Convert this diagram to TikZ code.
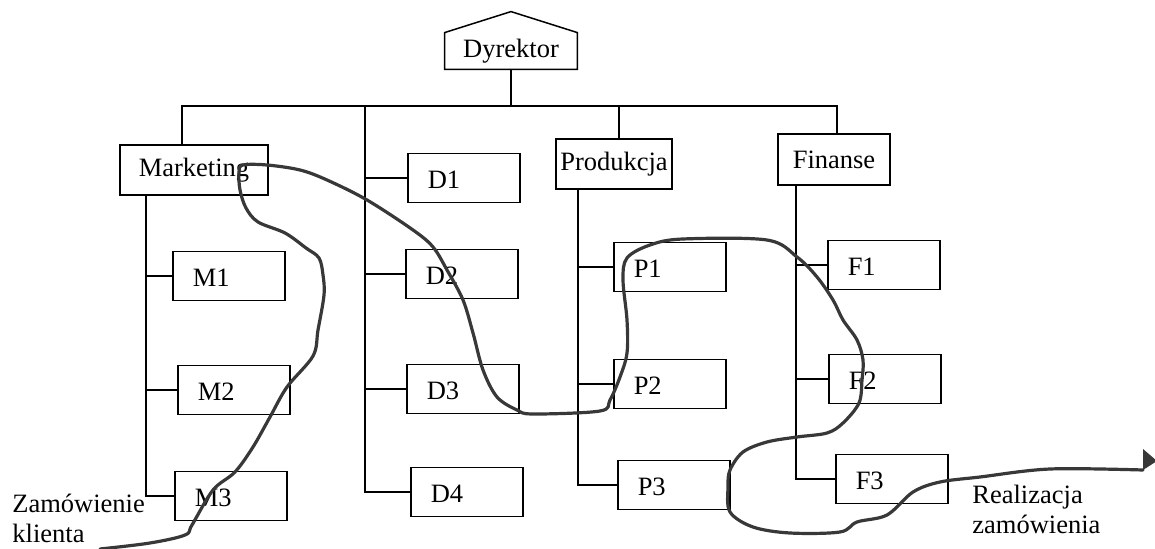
\documentclass[tikz,border=0pt]{standalone}
\usepackage{fontspec}
\setmainfont{Liberation Serif}
\usetikzlibrary{calc}
\newcommand{\orgfont}{\fontsize{13.25}{15}\selectfont}

\begin{document}
\begin{tikzpicture}[x=0.5pt, y=-0.5pt, font=\orgfont,
  dept/.style={draw, line width=0.75pt, minimum height=25pt, inner sep=0pt},
  unitbox/.style={draw, line width=0.75pt, minimum height=24.5pt,
    text width=36pt, text height=10.5pt, text depth=0pt,
    inner xsep=10pt, inner ysep=0pt, align=left, anchor=west},
  link/.style={line width=0.75pt},
  order/.style={line width=1.6pt, black!78, line join=round, line cap=round},
  lbl/.style={align=left, anchor=base west, inner sep=0pt}]
\useasboundingbox (0,0) rectangle (1155,549);

% --- Dyrektor ------------------------------------------------
\node[minimum width=66pt, minimum height=18pt, inner sep=0pt] (dyr) at (511,51) {Dyrektor};
\draw[link] (dyr.south west) -- (dyr.north west) -- ($(dyr.north)+(0,-21)$)
  -- (dyr.north east) -- (dyr.south east) -- cycle;

% --- departments ---------------------------------------------
\node[dept, minimum width=74pt] (mkt) at (194,170) {Marketing};
\node[dept, minimum width=58pt] (prod) at (614,164) {Produkcja};
\node[dept, minimum width=56pt, minimum height=25.5pt] (fin) at (834,159.5) {Finanse};

% --- units ---------------------------------------------------
\node[unitbox] (M1) at (172,276) {M1};
\node[unitbox] (M2) at (177,390) {M2};
\node[unitbox] (M3) at (174,496) {M3};
\node[unitbox] (D1) at (407,178) {D1};
\node[unitbox] (D2) at (405,274) {D2};
\node[unitbox] (D3) at (406,389) {D3};
\node[unitbox] (D4) at (410,492) {D4};
\node[unitbox] (P1) at (613,267) {P1};
\node[unitbox] (P2) at (613,384) {P2};
\node[unitbox] (P3) at (617,485) {P3};
\node[unitbox] (F1) at (827,265) {F1};
\node[unitbox] (F2) at (828,379) {F2};
\node[unitbox] (F3) at (835,479) {F3};

% --- bus -----------------------------------------------------
\coordinate (busL) at (182,106);
\coordinate (busR) at (837,106);
\coordinate (dtop) at (365,106);
\coordinate (ptop) at (619,106);
\draw[link] (dyr.south) -- (dyr.south |- busL);
\draw[link] (busL |- mkt.north) -- (busL) -- (busR) -- (busR |- fin.north);
\draw[link] (ptop) -- (ptop |- prod.north);

% --- stems ---------------------------------------------------
\coordinate (mstem) at (146,195);
\coordinate (pstem) at (578,189);
\coordinate (fstem) at (796,185);
\foreach \n in {M1, M2, M3}{
  \draw[link] (mstem) |- (\n.west);
}
\foreach \n in {D1, D2, D3, D4}{
  \draw[link] (dtop) |- (\n.west);
}
\foreach \n in {P1, P2, P3}{
  \draw[link] (pstem) |- (\n.west);
}
\foreach \n in {F1, F2, F3}{
  \draw[link] (fstem) |- (\n.west);
}

% --- labels --------------------------------------------------
\node[lbl] (klient) at (12,542) {Zamówienie\\klienta};
\node[lbl] (real) at (972,533) {Realizacja\\zamówienia};

% --- order flow ----------------------------------------------
\coordinate (in) at (100,549);
\coordinate (out) at (1143,470);
\draw[order] plot[smooth, tension=0.55] coordinates {
  (in) (150,543) (185,535) (192,525) (213,490) (235,472) (253,447)
  (270,417) (287,387) (313,356) (318,330) (324,295) (323,275) (319,258)
  (306,248) (285,233) (258,222) (246,208) (240,190) (239,172) (243,165)
  (267,165) (300,170) (327,180) (367,200) (413,230) (433,247) (447,270)
  (463,300) (473,333) (483,370) (497,397) (517,410) (533,414) (600,411)
  (610,400) (620,377) (627,353) (627,320) (623,280) (627,258) (650,245)
  (683,239) (767,240) (797,257) (817,277) (833,300) (843,320) (857,340)
  (863,360) (862,380) (859,403) (843,423) (827,433) (797,437) (767,442)
  (743,452) (730,470) (728,487) (730,512) (753,527) (790,533) (840,532)
  (857,522) (887,515) (913,492) (940,482) (980,477) (1050,469) (out)};
\fill[black!78] (1143,449) -- (1157,461) -- (out) -- cycle;

\end{tikzpicture}
\end{document}
